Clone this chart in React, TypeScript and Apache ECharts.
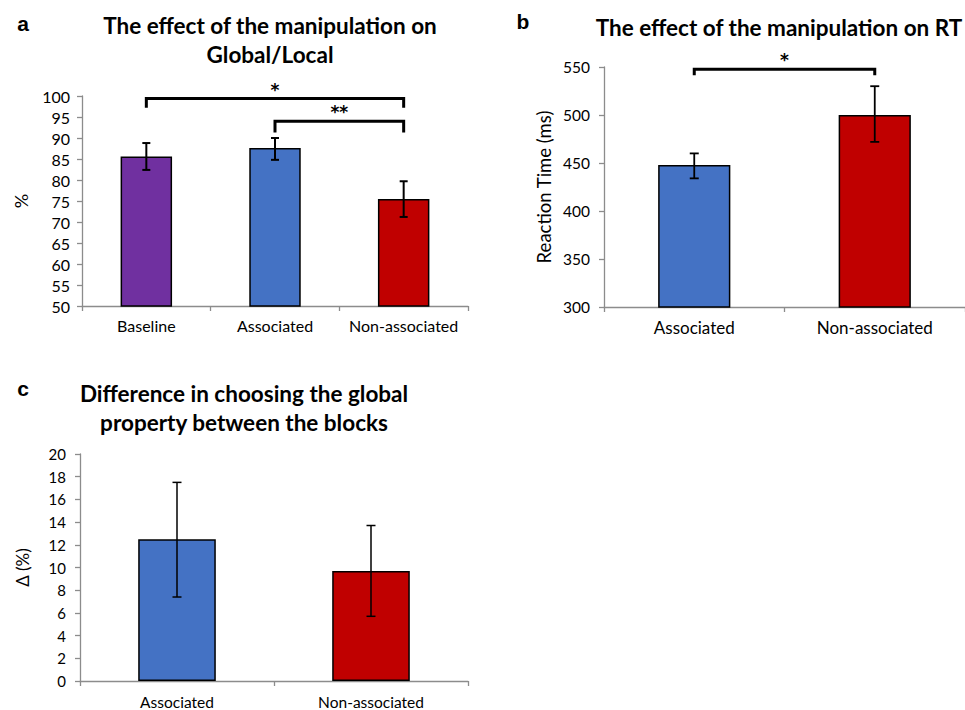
import React, { useEffect, useRef } from "react";
import * as echarts from "echarts";

// ---------- Panel a ----------
const aCategories = ["Baseline", "Associated", "Non-associated"];
const aValues = [85.6, 87.6, 75.5];
const aErrLow = [82.4, 84.8, 71.2];
const aErrHigh = [88.8, 90.0, 79.7];
const aColors = ["#7030A0", "#4472C4", "#C00000"];
const aBracketFrom = [0, 1];
const aBracketTo = [2, 2];
const aBracketY = [99.4, 94.0];
const aBracketLegEnd = [97.2, 91.3];
const aBracketLabels = ["*", "**"];

// ---------- Panel b ----------
const bCategories = ["Associated", "Non-associated"];
const bValues = [448, 500];
const bErrLow = [434, 472];
const bErrHigh = [460, 530];
const bColors = ["#4472C4", "#C00000"];
const bBracketFrom = [0];
const bBracketTo = [1];
const bBracketY = [547.6];
const bBracketLegEnd = [541.5];
const bBracketLabels = ["*"];

// ---------- Panel c ----------
const cCategories = ["Associated", "Non-associated"];
const cValues = [12.5, 9.7];
const cErrLow = [7.4, 5.7];
const cErrHigh = [17.5, 13.7];
const cColors = ["#4472C4", "#C00000"];

const TICK_FONT = "Lato";
const TITLE_FONT = "Lato";
const AXIS_GRAY = "#8c8c8c";

function errorRender(capHalf: number, lw: number) {
  return (params: any, api: any) => {
    const x = api.value(0);
    const lo = api.coord([x, api.value(1)]);
    const hi = api.coord([x, api.value(2)]);
    const style = { stroke: "#000", lineWidth: lw };
    return {
      type: "group",
      children: [
        { type: "line", shape: { x1: lo[0], y1: lo[1], x2: hi[0], y2: hi[1] }, style },
        { type: "line", shape: { x1: hi[0] - capHalf, y1: hi[1], x2: hi[0] + capHalf, y2: hi[1] }, style },
        { type: "line", shape: { x1: lo[0] - capHalf, y1: lo[1], x2: lo[0] + capHalf, y2: lo[1] }, style },
      ],
    };
  };
}

function bracketRender(labels: string[]) {
  return (params: any, api: any) => {
    const from = api.value(0);
    const to = api.value(1);
    const p1 = api.coord([from, api.value(2)]);
    const p2 = api.coord([to, api.value(2)]);
    const l1 = api.coord([from, api.value(3)]);
    const l2 = api.coord([to, api.value(3)]);
    return {
      type: "group",
      children: [
        {
          type: "polyline",
          shape: { points: [[p1[0], l1[1]], [p1[0], p1[1]], [p2[0], p2[1]], [p2[0], l2[1]]] },
          style: { stroke: "#000", lineWidth: 3, fill: null, lineJoin: "miter" },
        },
        {
          type: "text",
          x: (p1[0] + p2[0]) / 2,
          y: p1[1] - 9,
          style: {
            text: labels[params.dataIndex],
            fontFamily: "DejaVu Sans",
            fontWeight: "bold",
            fontSize: 17,
            fill: "#000",
            align: "center",
            verticalAlign: "middle",
          },
        },
      ],
    };
  };
}

function xAxisDef(gridIndex: number, data: string[], fontSize: number, margin: number) {
  return {
    type: "category",
    gridIndex,
    data,
    axisLine: { lineStyle: { color: AXIS_GRAY, width: 1.3 } },
    axisTick: { show: true, length: 5, lineStyle: { color: AXIS_GRAY, width: 1.3 } },
    axisLabel: { color: "#000", fontFamily: TICK_FONT, fontSize, margin, interval: 0 },
    splitLine: { show: false },
  };
}

function yAxisDef(
  gridIndex: number,
  min: number,
  max: number,
  interval: number,
  name: string,
  nameGap: number,
  nameSize: number,
  fontSize: number,
  margin: number
) {
  return {
    type: "value",
    gridIndex,
    min,
    max,
    interval,
    name,
    nameLocation: "middle",
    nameGap,
    nameTextStyle: { color: "#000", fontFamily: TICK_FONT, fontSize: nameSize },
    axisLine: { show: true, lineStyle: { color: AXIS_GRAY, width: 1.3 } },
    axisTick: { show: true, length: 5, lineStyle: { color: AXIS_GRAY, width: 1.3 } },
    axisLabel: { color: "#000", fontFamily: TICK_FONT, fontSize, margin },
    splitLine: { show: false },
  };
}

function barData(values: number[], colors: string[]) {
  return values.map((v, i) => ({
    value: v,
    itemStyle: { color: colors[i], borderColor: "#000", borderWidth: 1.5 },
  }));
}

function titleText(text: string, x: number, y: number, size = 22.5) {
  return {
    type: "text",
    x,
    y,
    style: {
      text,
      fontFamily: TITLE_FONT,
      fontWeight: "bold",
      fontSize: size,
      fill: "#000",
      align: "center",
      verticalAlign: "middle",
    },
  };
}

function letterText(text: string, x: number, y: number) {
  return {
    type: "text",
    x,
    y,
    style: {
      text,
      fontFamily: "Liberation Sans",
      fontWeight: "bold",
      fontSize: 21,
      fill: "#000",
      align: "center",
      verticalAlign: "middle",
    },
  };
}

export default function App() {
  const ref = useRef<HTMLDivElement>(null);

  useEffect(() => {
    if (!ref.current) return;
    const chart = echarts.init(ref.current, undefined, { renderer: "svg" });
    const option: any = {
      animation: false,
      backgroundColor: "#fff",
      grid: [
        { left: 82, top: 96, width: 386, height: 210 },
        { left: 604, top: 67, width: 364, height: 240 },
        { left: 80, top: 454, width: 388, height: 227 },
      ],
      xAxis: [
        xAxisDef(0, aCategories, 16, 11),
        xAxisDef(1, bCategories, 17, 12),
        xAxisDef(2, cCategories, 15.5, 13),
      ],
      yAxis: [
        yAxisDef(0, 50, 100, 5, "%", 52, 18, 16, 12),
        yAxisDef(1, 300, 550, 50, "Reaction Time (ms)", 51, 18.5, 15.5, 14),
        yAxisDef(2, 0, 20, 2, "Δ (%)", 49, 17, 15, 14),
      ],
      series: [
        {
          type: "bar",
          xAxisIndex: 0,
          yAxisIndex: 0,
          barWidth: "40%",
          data: barData(aValues, aColors),
        },
        {
          type: "custom",
          xAxisIndex: 0,
          yAxisIndex: 0,
          clip: false,
          z: 5,
          renderItem: errorRender(4, 2),
          encode: { x: 0, y: [1, 2] },
          data: aValues.map((_, i) => [i, aErrLow[i], aErrHigh[i]]),
        },
        {
          type: "custom",
          xAxisIndex: 0,
          yAxisIndex: 0,
          clip: false,
          z: 6,
          renderItem: bracketRender(aBracketLabels),
          encode: { x: [0, 1], y: [2, 3] },
          data: aBracketFrom.map((f, i) => [f, aBracketTo[i], aBracketY[i], aBracketLegEnd[i]]),
        },
        {
          type: "bar",
          xAxisIndex: 1,
          yAxisIndex: 1,
          barWidth: "40%",
          data: barData(bValues, bColors),
        },
        {
          type: "custom",
          xAxisIndex: 1,
          yAxisIndex: 1,
          clip: false,
          z: 5,
          renderItem: errorRender(4.5, 1.8),
          encode: { x: 0, y: [1, 2] },
          data: bValues.map((_, i) => [i, bErrLow[i], bErrHigh[i]]),
        },
        {
          type: "custom",
          xAxisIndex: 1,
          yAxisIndex: 1,
          clip: false,
          z: 6,
          renderItem: bracketRender(bBracketLabels),
          encode: { x: [0, 1], y: [2, 3] },
          data: bBracketFrom.map((f, i) => [f, bBracketTo[i], bBracketY[i], bBracketLegEnd[i]]),
        },
        {
          type: "bar",
          xAxisIndex: 2,
          yAxisIndex: 2,
          barWidth: "40%",
          data: barData(cValues, cColors),
        },
        {
          type: "custom",
          xAxisIndex: 2,
          yAxisIndex: 2,
          clip: false,
          z: 5,
          renderItem: errorRender(4.5, 1.5),
          encode: { x: 0, y: [1, 2] },
          data: cValues.map((_, i) => [i, cErrLow[i], cErrHigh[i]]),
        },
      ],
      graphic: [
        letterText("a", 23, 23),
        letterText("b", 523, 21),
        letterText("c", 23, 388),
        titleText("The effect of the manipulation on", 270, 25),
        titleText("Global/Local", 270, 54),
        titleText("The effect of the manipulation on RT", 779, 27),
        titleText("Difference in choosing the global", 244, 393),
        titleText("property between the blocks", 244, 422),
      ],
    };
    chart.setOption(option);
    return () => chart.dispose();
  }, []);

  return (
    <div
      ref={ref}
      style={{ position: "absolute", left: 0, top: 0, width: 965, height: 710, background: "#fff" }}
    />
  );
}
